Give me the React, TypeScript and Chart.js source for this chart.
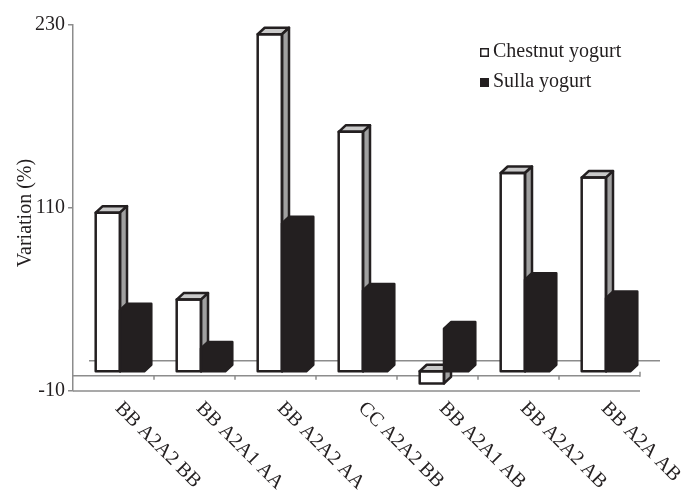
import React, { useEffect, useRef } from 'react';
import { Chart, registerables } from 'chart.js';

Chart.register(...registerables);

const categories = ['BB A2A2 BB', 'BB A2A1 AA', 'BB A2A2 AA', 'CC A2A2 BB', 'BB A2A1 AB', 'BB A2A2 AB', 'BB A2A AB'];
const chestnutValues = [104, 47, 221, 157, -8, 130, 127];
const sullaValues = [40, 15, 97, 53, 28, 60, 48];
const yTicks = [-10, 110, 230];
const seriesNames = ['Chestnut yogurt', 'Sulla yogurt'];
const yTitle = 'Variation (%)';

const FONT = '"Liberation Serif", "Times New Roman", serif';
const TEXT = '#231f20';
const DARK = '#231f20';
const GRAY = '#8c8c8c';
const TOP_FACE = '#c9c9c9';
const SIDE_FACE = '#a0a0a0';
// pseudo-3D offsets (style only)
const PLANE_DX = 6.5, PLANE_DY = -4.5; // bars sit behind the front plane
const BACK_DX = 20, BACK_DY = -15; // back wall floor line
const DEPTH_DX = 7, DEPTH_DY = -6.5; // bar depth

function poly(ctx: CanvasRenderingContext2D, pts: number[][], fill: string | null, stroke: string | null) {
  ctx.beginPath();
  ctx.moveTo(pts[0][0], pts[0][1]);
  for (let i = 1; i < pts.length; i++) ctx.lineTo(pts[i][0], pts[i][1]);
  ctx.closePath();
  if (fill) { ctx.fillStyle = fill; ctx.fill(); }
  if (stroke) { ctx.strokeStyle = stroke; ctx.stroke(); }
}

const pseudo3d = {
  id: 'pseudo3d',
  beforeDatasetsDraw(chart: any) {
    const { ctx, chartArea: a, scales } = chart;
    const xs = scales.x, ys = scales.y;
    const y0 = ys.getPixelForValue(0);
    const n = categories.length;
    const cw = (xs.right - xs.left) / n;
    ctx.save();
    ctx.strokeStyle = GRAY;
    ctx.lineWidth = 1.5;
    const line = (x1: number, y1: number, x2: number, y2: number) => {
      ctx.beginPath(); ctx.moveTo(x1, y1); ctx.lineTo(x2, y2); ctx.stroke();
    };
    // back floor line
    line(a.left + BACK_DX - 4, y0 + BACK_DY, a.right + BACK_DX, y0 + BACK_DY);
    // front floor line with category ticks
    line(a.left, y0, a.right, y0);
    for (let k = 1; k < n; k++) {
      const bx = xs.left + k * cw;
      line(bx, y0, bx, y0 + 4);
    }
    line(a.right, y0 - 4, a.right, y0 + 1);
    // bottom line at axis minimum
    line(a.left, a.bottom, a.right, a.bottom);
    ctx.restore();
    ctx.save();
    ctx.translate(PLANE_DX, PLANE_DY);
  },
  afterDatasetsDraw(chart: any) {
    const { ctx } = chart;
    const m0 = chart.getDatasetMeta(0);
    const m1 = chart.getDatasetMeta(1);
    ctx.lineWidth = 2.5;
    ctx.lineJoin = 'round';
    for (let i = 0; i < categories.length; i++) {
      // chestnut: front outline, top face, side face
      const p0 = m0.data[i].getProps(['x', 'y', 'base', 'width'], true);
      let L = p0.x - p0.width / 2, R = p0.x + p0.width / 2;
      let T = Math.min(p0.y, p0.base), B = Math.max(p0.y, p0.base);
      poly(ctx, [[L, T], [L + DEPTH_DX, T + DEPTH_DY], [R + DEPTH_DX, T + DEPTH_DY], [R, T]], TOP_FACE, DARK);
      poly(ctx, [[R, T], [R + DEPTH_DX, T + DEPTH_DY], [R + DEPTH_DX, B + DEPTH_DY], [R, B]], SIDE_FACE, DARK);
      ctx.strokeStyle = DARK;
      ctx.strokeRect(L, T, R - L, B - T);
      // sulla: full dark prism
      const p1 = m1.data[i].getProps(['x', 'y', 'base', 'width'], true);
      L = p1.x - p1.width / 2; R = p1.x + p1.width / 2;
      T = Math.min(p1.y, p1.base); B = Math.max(p1.y, p1.base);
      poly(ctx, [[L, B], [L, T], [L + DEPTH_DX, T + DEPTH_DY], [R + DEPTH_DX, T + DEPTH_DY], [R + DEPTH_DX, B + DEPTH_DY], [R, B]], DARK, DARK);
    }
    ctx.restore();
  },
  afterDraw(chart: any) {
    const { ctx, chartArea: a, scales } = chart;
    const xs = scales.x;
    ctx.save();
    ctx.fillStyle = TEXT;
    ctx.font = `20px ${FONT}`;
    // rotated category labels
    ctx.textAlign = 'left';
    ctx.textBaseline = 'alphabetic';
    categories.forEach((c, i) => {
      const cx = xs.getPixelForValue(i);
      ctx.save();
      ctx.translate(cx + 1, a.bottom + 18);
      ctx.rotate(Math.PI / 4);
      ctx.fillText(c, 0, 0);
      ctx.restore();
    });
    // y axis title
    ctx.save();
    ctx.translate(31, (a.top + a.bottom) / 2 + 5);
    ctx.rotate(-Math.PI / 2);
    ctx.textAlign = 'center';
    ctx.fillText(yTitle, 0, 0);
    ctx.restore();
    // legend
    const lx = 480, ly = [48, 78];
    ctx.lineWidth = 1.5;
    ctx.strokeStyle = DARK;
    ctx.fillStyle = '#ffffff';
    ctx.fillRect(lx + 0.75, ly[0] + 0.75, 7.5, 7.5);
    ctx.strokeRect(lx + 0.75, ly[0] + 0.75, 7.5, 7.5);
    ctx.fillStyle = DARK;
    ctx.fillRect(lx, ly[1], 9, 9);
    ctx.fillStyle = TEXT;
    ctx.textAlign = 'left';
    ctx.fillText(chart.data.datasets[0].label, 493, ly[0] + 9);
    ctx.fillText(chart.data.datasets[1].label, 493, ly[1] + 9);
    ctx.restore();
  },
};

export default function App() {
  const ref = useRef<HTMLCanvasElement>(null);
  useEffect(() => {
    const chart = new Chart(ref.current as HTMLCanvasElement, {
      type: 'bar',
      data: {
        labels: categories,
        datasets: [
          { label: seriesNames[0], data: chestnutValues, backgroundColor: '#ffffff', borderWidth: 0, clip: false, categoryPercentage: 0.6, barPercentage: 1 } as any,
          { label: seriesNames[1], data: sullaValues, backgroundColor: DARK, borderWidth: 0, clip: false, categoryPercentage: 0.6, barPercentage: 1 } as any,
        ],
      },
      options: {
        responsive: false,
        animation: false,
        devicePixelRatio: 1,
        layout: { padding: { left: 0, top: 25, right: 49, bottom: 100 } },
        plugins: { legend: { display: false }, tooltip: { enabled: false }, title: { display: false } },
        scales: {
          x: { display: false },
          y: {
            min: -10,
            max: 230,
            afterBuildTicks: (s: any) => { s.ticks = yTicks.map((v) => ({ value: v })); },
            afterFit: (s: any) => { s.width = 73; },
            grid: { display: true, drawOnChartArea: false, drawTicks: true, tickLength: 5, color: GRAY, lineWidth: 1.5 },
            border: { display: true, color: GRAY, width: 1.5 },
            ticks: { font: { size: 20, family: FONT }, color: TEXT, padding: 3 },
            title: { display: false },
          },
        },
      } as any,
      plugins: [pseudo3d],
    });
    return () => chart.destroy();
  }, []);
  return (
    <div style={{ position: 'absolute', left: 0, top: 0, width: 689, height: 491, background: '#ffffff' }}>
      <canvas ref={ref} width={689} height={491} style={{ display: 'block' }} />
    </div>
  );
}
